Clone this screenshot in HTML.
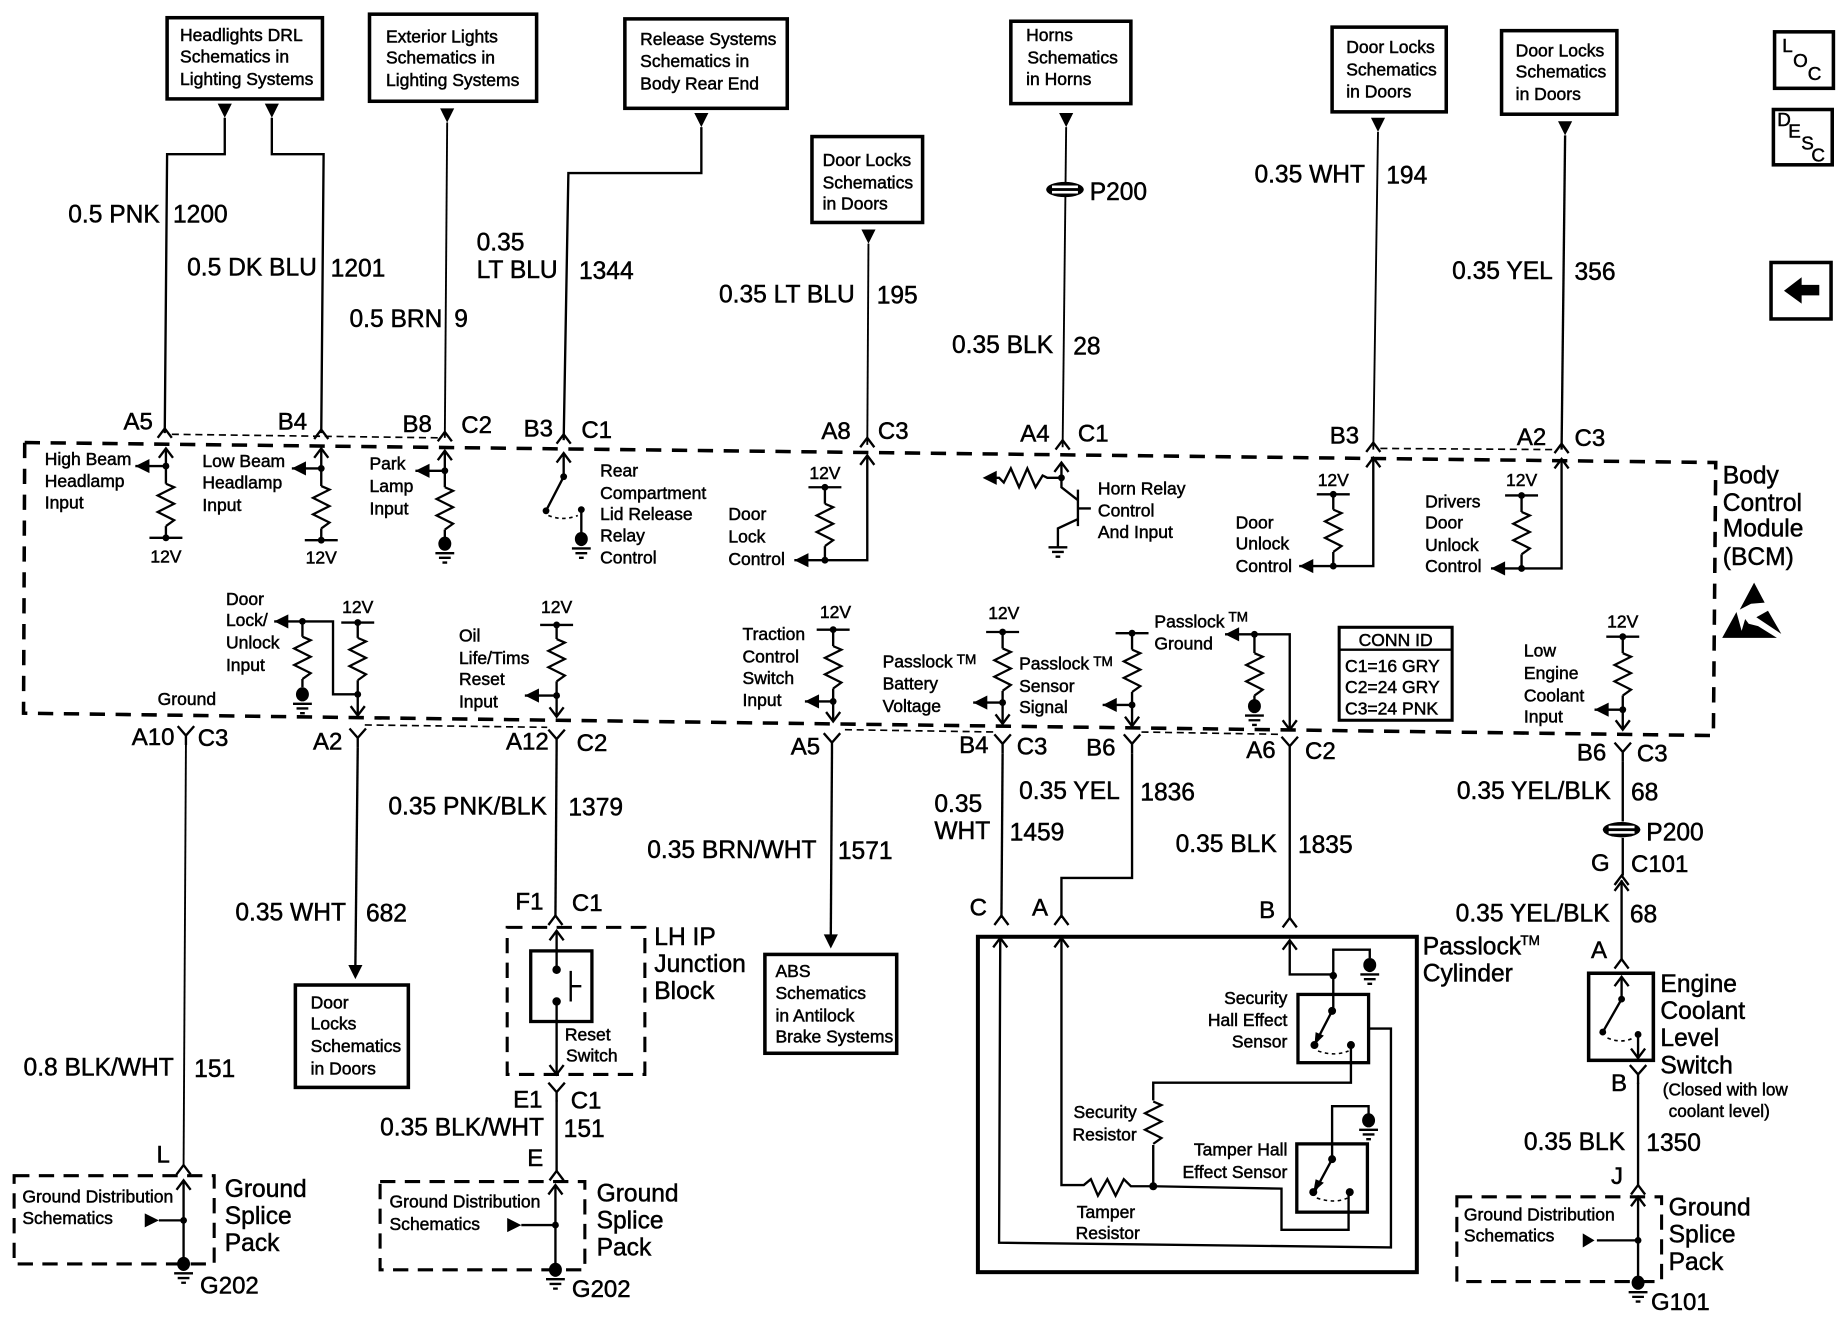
<!DOCTYPE html>
<html><head><meta charset="utf-8"><title>BCM schematic</title>
<style>
html,body{margin:0;padding:0;background:#fff;width:1844px;height:1344px;overflow:hidden}
svg{display:block}
text{font-family:"Liberation Sans",sans-serif;fill:#000;stroke:#000;stroke-width:.42}
.s{font-size:14.9px}
.l{font-size:20.9px}
.m{font-size:20.4px}
.t{font-size:11.5px}
.n{font-size:16px;text-anchor:middle}
.w{fill:none;stroke:#000;stroke-width:2}
.h{fill:none;stroke:#000;stroke-width:1.6}
.b{fill:#fff;stroke:#000;stroke-width:3}
</style></head><body>
<svg xmlns="http://www.w3.org/2000/svg" width="1844" height="1344" viewBox="0 0 1567 1142">
<defs>
<path id="res" d="M0 0L7 3L-7 10L7 17L-7 24L7 31L0 36" fill="none" stroke="#000" stroke-width="1.9"/>
<path id="up" d="M-6 8L0 0L6 8" fill="none" stroke="#000" stroke-width="2"/>
<path id="dn" d="M-6 -8L0 0L6 -8" fill="none" stroke="#000" stroke-width="2"/>
<path id="Y" d="M-7 -8L0 0L7 -8M0 0V8" fill="none" stroke="#000" stroke-width="2"/>
<polygon id="tl" points="0,0 12,-6 12,6"/>
<polygon id="td" points="0,0 -6,-12 6,-12"/>
<circle id="dot" r="2.9"/>
<g id="gnd"><ellipse rx="5.5" ry="6"/><path d="M-8 8H8M-5 12H5M-2 16H2" stroke="#000" stroke-width="2" fill="none"/></g>
<g id="gl"><path d="M-8 0H8M-5 4H5M-2 8H2" stroke="#000" stroke-width="2" fill="none"/></g>
<g id="bar"><path d="M-14 0H14" stroke="#000" stroke-width="2"/><circle r="2.9"/></g>
<g id="p2"><ellipse rx="16" ry="6.5"/><rect x="-11" y="-3.4" width="22" height="2.2" fill="#fff"/><rect x="-11" y="1.2" width="22" height="2.2" fill="#fff"/></g>
</defs>

<!-- top boxes -->
<rect class="b" x="142" y="15" width="132" height="69"/>
<text class="s"><tspan x="153" y="35">Headlights DRL</tspan><tspan x="153" y="53">Schematics in</tspan><tspan x="153" y="72">Lighting Systems</tspan></text>
<rect class="b" x="314" y="12" width="142" height="74"/>
<text class="s"><tspan x="328" y="36">Exterior Lights</tspan><tspan x="328" y="54">Schematics in</tspan><tspan x="328" y="73">Lighting Systems</tspan></text>
<rect class="b" x="531" y="16" width="138" height="76"/>
<text class="s"><tspan x="544" y="38">Release Systems</tspan><tspan x="544" y="57">Schematics in</tspan><tspan x="544" y="76">Body Rear End</tspan></text>
<rect class="b" x="690" y="116" width="94" height="73"/>
<text class="s"><tspan x="699" y="141">Door Locks</tspan><tspan x="699" y="160">Schematics</tspan><tspan x="699" y="178">in Doors</tspan></text>
<rect class="b" x="859" y="18" width="102" height="70"/>
<text class="s"><tspan x="872" y="35">Horns</tspan><tspan x="873" y="54">Schematics</tspan><tspan x="872" y="72">in Horns</tspan></text>
<rect class="b" x="1132" y="23" width="97" height="72"/>
<text class="s"><tspan x="1144" y="45">Door Locks</tspan><tspan x="1144" y="64">Schematics</tspan><tspan x="1144" y="83">in Doors</tspan></text>
<rect class="b" x="1276" y="26" width="98" height="71"/>
<text class="s"><tspan x="1288" y="48">Door Locks</tspan><tspan x="1288" y="66">Schematics</tspan><tspan x="1288" y="85">in Doors</tspan></text>

<!-- nav boxes -->
<rect class="b" x="1508" y="27" width="50" height="48"/>
<text class="n" x="1519" y="44">L</text><text class="n" x="1530" y="57">O</text><text class="n" x="1542" y="68">C</text>
<rect class="b" x="1507" y="93" width="50" height="47"/>
<text class="n" x="1516" y="107">D</text><text class="n" x="1525" y="117">E</text><text class="n" x="1536" y="127">S</text><text class="n" x="1545" y="137">C</text>
<rect class="b" x="1505" y="223" width="51" height="48"/>
<path d="M1516 247L1531 235.500V242H1546V251H1531V258Z"/>

<!-- top wires -->
<use href="#td" x="191" y="100"/><use href="#td" x="231" y="100"/><use href="#td" x="380" y="104"/>
<use href="#td" x="596" y="108"/><use href="#td" x="738" y="207"/><use href="#td" x="906" y="108"/>
<use href="#td" x="1171" y="112"/><use href="#td" x="1330" y="115"/>
<path class="w" d="M191 100V131H142L140 368"/>
<path class="w" d="M231 100V131H275L273 368"/>
<path class="h" d="M380 104L378 372"/>
<path class="w" d="M596 108V147H483L479 374"/>
<path class="h" d="M738 207L737 378"/>
<path class="h" d="M906 108L903 380"/>
<path class="h" d="M1171 112L1167 382"/>
<path class="w" d="M1330 115L1327 382"/>
<use href="#p2" x="905" y="161"/>

<!-- wire labels top -->
<text class="l" x="58" y="189">0.5 PNK</text><text class="l" x="147" y="189">1200</text>
<text class="l" x="159" y="234">0.5 DK BLU</text><text class="l" x="281" y="235">1201</text>
<text class="l" x="297" y="278">0.5 BRN</text><text class="l" x="386" y="278">9</text>
<text class="l" x="405" y="213">0.35</text><text class="l" x="405" y="236">LT BLU</text><text class="l" x="492" y="237">1344</text>
<text class="l" x="611" y="257">0.35 LT BLU</text><text class="l" x="745" y="258">195</text>
<text class="l" x="809" y="300">0.35 BLK</text><text class="l" x="912" y="301">28</text>
<text class="l" x="926" y="170">P200</text>
<text class="l" x="1066" y="155">0.35 WHT</text><text class="l" x="1178" y="156">194</text>
<text class="l" x="1234" y="237">0.35 YEL</text><text class="l" x="1338" y="238">356</text>

<!-- connector labels top -->
<text class="m" x="105" y="365">A5</text><text class="m" x="236" y="365">B4</text><text class="m" x="342" y="367">B8</text><text class="m" x="392" y="368">C2</text>
<text class="m" x="445" y="371">B3</text><text class="m" x="494" y="372">C1</text><text class="m" x="698" y="373">A8</text><text class="m" x="746" y="373">C3</text>
<text class="m" x="867" y="375">A4</text><text class="m" x="916" y="375">C1</text><text class="m" x="1130" y="377">B3</text><text class="m" x="1289" y="378">A2</text><text class="m" x="1338" y="379">C3</text>

<!-- BCM boundary -->
<path d="M21 376L1458 393L1456 625L20 606Z" fill="none" stroke="#000" stroke-width="3" stroke-dasharray="13 9"/>
<path d="M146 369L372 372M1173 381L1321 382M310 616L465 618M718 620L846 622M970 622L1090 624" fill="none" stroke="#000" stroke-width="1.4" stroke-dasharray="6 4"/>

<!-- top connectors -->
<use href="#up" x="140" y="364"/><use href="#up" x="273" y="365"/><use href="#up" x="378" y="367"/><use href="#up" x="479" y="369"/>
<use href="#up" x="737" y="372"/><use href="#up" x="903" y="374"/><use href="#up" x="1167" y="376"/><use href="#up" x="1327" y="377"/>

<!-- High beam -->
<text class="s"><tspan x="38" y="395">High Beam</tspan><tspan x="38" y="414">Headlamp</tspan><tspan x="38" y="432">Input</tspan></text>
<use href="#up" x="141" y="381"/><path class="w" d="M141 381V411M115 396H141"/><use href="#dot" x="141" y="396"/><use href="#tl" x="115" y="396"/>
<use href="#res" x="141" y="411"/><path class="w" d="M141 447V457"/><use href="#bar" x="141" y="457"/>
<text class="s" text-anchor="middle" x="141" y="478">12V</text>
<!-- Low beam -->
<text class="s"><tspan x="172" y="397">Low Beam</tspan><tspan x="172" y="415">Headlamp</tspan><tspan x="172" y="434">Input</tspan></text>
<use href="#up" x="273" y="381"/><path class="w" d="M273 381V413M248 398H273"/><use href="#dot" x="273" y="398"/><use href="#tl" x="248" y="398"/>
<use href="#res" x="273" y="413"/><path class="w" d="M273 449V459"/><use href="#bar" x="273" y="459"/>
<text class="s" text-anchor="middle" x="273" y="479">12V</text>
<!-- Park -->
<text class="s"><tspan x="314" y="399">Park</tspan><tspan x="314" y="418">Lamp</tspan><tspan x="314" y="437">Input</tspan></text>
<use href="#up" x="378" y="383"/><path class="w" d="M378 383V414M353 400H378"/><use href="#dot" x="378" y="400"/><use href="#tl" x="353" y="400"/>
<use href="#res" x="378" y="414"/><path class="w" d="M378 450V460"/><use href="#gnd" x="378" y="462"/>
<!-- Rear compartment -->
<text class="s"><tspan x="510" y="405">Rear</tspan><tspan x="510" y="424">Compartment</tspan><tspan x="510" y="442">Lid Release</tspan><tspan x="510" y="460">Relay</tspan><tspan x="510" y="479">Control</tspan></text>
<use href="#up" x="479" y="385"/><path class="w" d="M479 385V405L464 434"/><use href="#dot" x="479" y="405"/><use href="#dot" x="464" y="434"/><use href="#dot" x="494" y="433"/>
<path d="M466 438Q478 443 491 438" fill="none" stroke="#000" stroke-width="1.4" stroke-dasharray="3 3"/>
<path class="w" d="M494 433V455"/><use href="#gnd" x="494" y="458"/>
<!-- Door lock control -->
<text class="s"><tspan x="619" y="442">Door</tspan><tspan x="619" y="461">Lock</tspan><tspan x="619" y="480">Control</tspan></text>
<use href="#up" x="737" y="387"/><path class="w" d="M737 387V476H675"/><use href="#tl" x="675" y="476"/><use href="#dot" x="701" y="476"/>
<use href="#bar" x="701" y="414"/><text class="s" text-anchor="middle" x="701" y="407">12V</text>
<path class="w" d="M701 414V428M701 464V476"/><use href="#res" x="701" y="428"/>
<!-- Horn relay -->
<text class="s"><tspan x="933" y="420">Horn Relay</tspan><tspan x="933" y="439">Control</tspan><tspan x="933" y="457">And Input</tspan></text>
<use href="#up" x="902" y="393"/><path class="w" d="M902 393V414L916 425M916 416V447M916 432H927M916 441L899 449V465"/>
<use href="#dot" x="902" y="406"/>
<path class="w" d="M902 406H890L886 404 880 414 873 398 866 414 859 398 853 410 849 406H846"/>
<use href="#tl" x="835" y="406"/>
<use href="#gl" x="899" y="465"/>
<!-- Door unlock -->
<text class="s"><tspan x="1050" y="449">Door</tspan><tspan x="1050" y="467">Unlock</tspan><tspan x="1050" y="486">Control</tspan></text>
<use href="#up" x="1167" y="389"/><path class="w" d="M1167 389V481H1104"/><use href="#tl" x="1104" y="481"/><use href="#dot" x="1133" y="481"/>
<use href="#bar" x="1133" y="420"/><text class="s" text-anchor="middle" x="1133" y="413">12V</text>
<path class="w" d="M1133 420V433M1133 469V481"/><use href="#res" x="1133" y="433"/>
<!-- Drivers door -->
<text class="s"><tspan x="1211" y="431">Drivers</tspan><tspan x="1211" y="449">Door</tspan><tspan x="1211" y="468">Unlock</tspan><tspan x="1211" y="486">Control</tspan></text>
<use href="#up" x="1327" y="390"/><path class="w" d="M1327 390V483H1267"/><use href="#tl" x="1267" y="483"/><use href="#dot" x="1293" y="483"/>
<use href="#bar" x="1293" y="421"/><text class="s" text-anchor="middle" x="1293" y="413">12V</text>
<path class="w" d="M1293 421V435M1293 471V483"/><use href="#res" x="1293" y="435"/>

<!-- Body control module -->
<text class="l" x="1464" y="411">Body</text><text class="l" x="1464" y="434">Control</text><text class="l" x="1464" y="456">Module</text><text class="l" x="1464" y="480">(BCM)</text>
<polygon points="1490.600,495 1499.600,512 1488,513 1478.400,518"/>
<polygon points="1463.500,542 1475.600,520 1480,536 1483,526 1486,530 1494,532 1510,542"/>
<polygon points="1492.500,524.500 1502.400,519 1513.700,538.600"/>

<!-- Door lock/unlock input -->
<text class="s"><tspan x="192" y="514">Door</tspan><tspan x="192" y="532">Lock/</tspan><tspan x="192" y="551">Unlock</tspan><tspan x="192" y="570">Input</tspan></text>
<text class="s" x="134" y="599">Ground</text>
<use href="#tl" x="233" y="528"/><path class="w" d="M233 528H283V590H304"/><use href="#dot" x="257" y="528"/>
<path class="w" d="M257 528V541M257 577V584"/><use href="#res" x="257" y="541"/><use href="#gnd" x="257" y="590"/>
<use href="#bar" x="304" y="529"/><text class="s" text-anchor="middle" x="304" y="521">12V</text>
<path class="w" d="M304 529V542M304 578V608"/><use href="#res" x="304" y="542"/><use href="#dot" x="304" y="590"/><use href="#dn" x="304" y="608"/>
<!-- Oil life -->
<text class="s"><tspan x="390" y="545">Oil</tspan><tspan x="390" y="564">Life/Tims</tspan><tspan x="390" y="582">Reset</tspan><tspan x="390" y="601">Input</tspan></text>
<use href="#bar" x="473" y="531"/><text class="s" text-anchor="middle" x="473" y="521">12V</text>
<path class="w" d="M473 531V543M473 579V609M446 591H473"/><use href="#res" x="473" y="543"/><use href="#dot" x="473" y="591"/><use href="#tl" x="446" y="591"/><use href="#dn" x="473" y="609"/>
<!-- Traction -->
<text class="s"><tspan x="631" y="544">Traction</tspan><tspan x="631" y="563">Control</tspan><tspan x="631" y="581">Switch</tspan><tspan x="631" y="600">Input</tspan></text>
<use href="#bar" x="708" y="535"/><text class="s" text-anchor="middle" x="710" y="525">12V</text>
<path class="w" d="M708 535V549M708 585V613M684 596H708"/><use href="#res" x="708" y="549"/><use href="#dot" x="708" y="596"/><use href="#tl" x="684" y="596"/><use href="#dn" x="708" y="613"/>
<!-- Passlock battery -->
<text class="s"><tspan x="750" y="567">Passlock</tspan><tspan x="750" y="586">Battery</tspan><tspan x="750" y="605">Voltage</tspan></text>
<text class="t" x="813" y="564">TM</text>
<use href="#bar" x="852" y="537"/><text class="s" text-anchor="middle" x="853" y="526">12V</text>
<path class="w" d="M852 537V551M852 587V615M827 597H852"/><use href="#res" x="852" y="551"/><use href="#dot" x="852" y="597"/><use href="#tl" x="827" y="597"/><use href="#dn" x="852" y="615"/>
<!-- Passlock sensor -->
<text class="s"><tspan x="866" y="569">Passlock</tspan><tspan x="866" y="588">Sensor</tspan><tspan x="866" y="606">Signal</tspan></text>
<text class="t" x="929" y="566">TM</text>
<use href="#bar" x="962" y="538"/>
<path class="w" d="M962 538V552M962 588V617M937 599H962"/><use href="#res" x="962" y="552"/><use href="#dot" x="962" y="599"/><use href="#tl" x="937" y="599"/><use href="#dn" x="962" y="617"/>
<!-- Passlock ground -->
<text class="s"><tspan x="981" y="533">Passlock</tspan><tspan x="981" y="552">Ground</tspan></text>
<text class="t" x="1044" y="528">TM</text>
<use href="#tl" x="1041" y="539"/><path class="w" d="M1041 539H1096V620"/><use href="#dot" x="1066" y="539"/><use href="#dn" x="1096" y="620"/>
<path class="w" d="M1066 539V555M1066 591V596"/><use href="#res" x="1066" y="555"/><use href="#gnd" x="1066" y="600"/>
<!-- CONN ID -->
<rect x="1138" y="533" width="96" height="79" fill="#fff" stroke="#000" stroke-width="2.6"/>
<path d="M1138 552H1234" stroke="#000" stroke-width="2"/>
<text class="s" text-anchor="middle" x="1186" y="549">CONN ID</text>
<text class="s"><tspan x="1143" y="571">C1=16 GRY</tspan><tspan x="1143" y="589">C2=24 GRY</tspan><tspan x="1143" y="607">C3=24 PNK</tspan></text>
<!-- Low engine coolant -->
<text class="s"><tspan x="1295" y="558">Low</tspan><tspan x="1295" y="577">Engine</tspan><tspan x="1295" y="596">Coolant</tspan><tspan x="1295" y="614">Input</tspan></text>
<use href="#bar" x="1379" y="541"/><text class="s" text-anchor="middle" x="1379" y="533">12V</text>
<path class="w" d="M1379 541V555M1379 591V620M1355 603H1379"/><use href="#res" x="1379" y="555"/><use href="#dot" x="1379" y="603"/><use href="#tl" x="1355" y="603"/><use href="#dn" x="1379" y="620"/>

<!-- bottom connectors and wires -->
<use href="#Y" x="158" y="625"/><use href="#Y" x="304" y="627"/><use href="#Y" x="473" y="628"/><use href="#Y" x="707" y="631"/>
<use href="#Y" x="852" y="632"/><use href="#Y" x="962" y="632"/><use href="#Y" x="1096" y="634"/><use href="#Y" x="1379" y="639"/>
<text class="m" x="112" y="633">A10</text><text class="m" x="168" y="634">C3</text>
<text class="m" x="266" y="637">A2</text>
<text class="m" x="430" y="637">A12</text><text class="m" x="490" y="638">C2</text>
<text class="m" x="672" y="641">A5</text>
<text class="m" x="815" y="640">B4</text><text class="m" x="864" y="641">C3</text>
<text class="m" x="923" y="642">B6</text>
<text class="m" x="1059" y="644">A6</text><text class="m" x="1109" y="645">C2</text>
<text class="m" x="1340" y="646">B6</text><text class="m" x="1391" y="647">C3</text>

<path class="h" d="M158 633L156 991"/>
<path class="w" d="M304 635L302 820"/><use href="#td" x="302" y="832"/>
<path class="w" d="M473 636L472 778"/>
<path class="w" d="M707 639L706 795"/><use href="#td" x="706" y="806"/>
<path class="w" d="M852 640L851 780"/>
<path class="w" d="M962 640V746H902V780"/>
<path class="w" d="M1096 642V780"/>
<path class="w" d="M1379 647V698M1379 712V744M1378 748V815"/>

<text class="l" x="330" y="692">0.35 PNK/BLK</text><text class="l" x="483" y="693">1379</text>
<text class="l" x="550" y="729">0.35 BRN/WHT</text><text class="l" x="712" y="730">1571</text>
<text class="l" x="794" y="690">0.35</text><text class="l" x="794" y="713">WHT</text><text class="l" x="858" y="714">1459</text>
<text class="l" x="866" y="679">0.35 YEL</text><text class="l" x="969" y="680">1836</text>
<text class="l" x="999" y="724">0.35 BLK</text><text class="l" x="1103" y="725">1835</text>
<text class="l" x="1238" y="679">0.35 YEL/BLK</text><text class="l" x="1386" y="680">68</text>
<text class="l" x="1399" y="714">P200</text>
<text class="l" x="1237" y="783">0.35 YEL/BLK</text><text class="l" x="1385" y="784">68</text>
<text class="l" x="200" y="782">0.35 WHT</text><text class="l" x="311" y="783">682</text>
<text class="l" x="20" y="914">0.8 BLK/WHT</text><text class="l" x="165" y="915">151</text>
<text class="l" x="323" y="965">0.35 BLK/WHT</text><text class="l" x="479" y="966">151</text>
<text class="l" x="1295" y="977">0.35 BLK</text><text class="l" x="1399" y="978">1350</text>
<use href="#p2" x="1378" y="705"/>
<text class="m" x="1352" y="740">G</text><text class="m" x="1386" y="741">C101</text>
<use href="#up" x="1378" y="744"/><use href="#up" x="1378" y="749"/>
<text class="m" x="1352" y="814">A</text>
<use href="#up" x="1378" y="815"/>

<!-- Door locks box low -->
<rect class="b" x="251" y="837" width="96" height="87"/>
<text class="s"><tspan x="264" y="857">Door</tspan><tspan x="264" y="875">Locks</tspan><tspan x="264" y="894">Schematics</tspan><tspan x="264" y="913">in Doors</tspan></text>
<!-- ABS -->
<rect class="b" x="650" y="811" width="112" height="84"/>
<text class="s"><tspan x="659" y="830">ABS</tspan><tspan x="659" y="849">Schematics</tspan><tspan x="659" y="868">in Antilock</tspan><tspan x="659" y="886">Brake Systems</tspan></text>

<!-- LH IP Junction -->
<text class="m" x="438" y="773">F1</text><text class="m" x="486" y="774">C1</text>
<use href="#up" x="472" y="778"/>
<rect x="431" y="788" width="117" height="125" fill="none" stroke="#000" stroke-width="2.6" stroke-dasharray="13 8"/>
<text class="l" x="556" y="803">LH IP</text><text class="l" x="556" y="826">Junction</text><text class="l" x="556" y="849">Block</text>
<use href="#up" x="473" y="791"/>
<rect x="451" y="808" width="52" height="60" fill="none" stroke="#000" stroke-width="2.8"/>
<path class="w" d="M473 791V824M473 851V913"/><use href="#dn" x="473" y="913"/>
<circle cx="473" cy="824" r="3.6"/><circle cx="473" cy="851" r="3.6"/>
<path class="w" d="M485 825V851M485 838H494"/>
<text class="s"><tspan x="480" y="884">Reset</tspan><tspan x="481" y="902">Switch</tspan></text>
<use href="#Y" x="473" y="928"/>
<text class="m" x="436" y="941">E1</text><text class="m" x="485" y="942">C1</text>
<path class="w" d="M473 935V995"/>
<text class="m" x="448" y="991">E</text>
<use href="#up" x="473" y="995"/>

<!-- Ground splice 1 -->
<text class="m" x="133" y="988">L</text>
<use href="#up" x="156" y="990"/>
<rect x="12" y="999" width="170" height="75" fill="none" stroke="#000" stroke-width="2.6" stroke-dasharray="13 8"/>
<use href="#up" x="156" y="1003"/><path class="w" d="M156 1003V1070M135 1037H156"/>
<use href="#dot" x="156" y="1037"/><polygon points="135,1037 123,1031 123,1043"/>
<use href="#gnd" x="156" y="1074"/>
<text class="s"><tspan x="19" y="1022">Ground Distribution</tspan><tspan x="19" y="1040">Schematics</tspan></text>
<text class="m" x="170" y="1099">G202</text>
<text class="l" x="191" y="1017">Ground</text><text class="l" x="191" y="1040">Splice</text><text class="l" x="191" y="1063">Pack</text>

<!-- Ground splice 2 -->
<rect x="323" y="1004" width="174" height="75" fill="none" stroke="#000" stroke-width="2.6" stroke-dasharray="13 8"/>
<use href="#up" x="472" y="1007"/><path class="w" d="M472 1007V1075M443 1041H472"/>
<use href="#dot" x="472" y="1041"/><polygon points="443,1041 431,1035 431,1047"/>
<use href="#gnd" x="472" y="1079"/>
<text class="s"><tspan x="331" y="1026">Ground Distribution</tspan><tspan x="331" y="1045">Schematics</tspan></text>
<text class="m" x="486" y="1102">G202</text>
<text class="l" x="507" y="1021">Ground</text><text class="l" x="507" y="1044">Splice</text><text class="l" x="507" y="1067">Pack</text>

<!-- Engine coolant switch -->
<rect x="1350" y="827" width="55" height="74" fill="none" stroke="#000" stroke-width="3"/>
<use href="#up" x="1378" y="830"/>
<path class="w" d="M1378 830V849L1362 877"/>
<use href="#dot" x="1378" y="849"/><use href="#dot" x="1362" y="877"/><use href="#dot" x="1392" y="879"/>
<path d="M1366 882Q1378 887 1388 882" fill="none" stroke="#000" stroke-width="1.4" stroke-dasharray="3 3"/>
<path class="w" d="M1392 879V899"/><use href="#dn" x="1392" y="899"/>
<use href="#Y" x="1392" y="913"/>
<text class="m" x="1369" y="927">B</text>
<text class="l" x="1411" y="843">Engine</text><text class="l" x="1411" y="866">Coolant</text><text class="l" x="1411" y="889">Level</text><text class="l" x="1411" y="912">Switch</text>
<text style="font-size:14.6px" x="1413" y="931">(Closed with low</text><text style="font-size:14.6px" x="1418" y="949">coolant level)</text>
<path class="w" d="M1392 920V1007"/>
<text class="m" x="1369" y="1006">J</text>
<use href="#up" x="1392" y="1007"/>

<!-- Ground splice 3 -->
<rect x="1238" y="1017" width="174" height="72" fill="none" stroke="#000" stroke-width="2.6" stroke-dasharray="13 8"/>
<use href="#up" x="1392" y="1017"/><path class="w" d="M1392 1017V1086M1357 1054H1392"/>
<use href="#dot" x="1392" y="1054"/><polygon points="1355,1054 1345,1048 1345,1060"/>
<use href="#gnd" x="1392" y="1090"/>
<text class="s"><tspan x="1244" y="1037">Ground Distribution</tspan><tspan x="1244" y="1055">Schematics</tspan></text>
<text class="m" x="1403" y="1113">G101</text>
<text class="l" x="1418" y="1033">Ground</text><text class="l" x="1418" y="1056">Splice</text><text class="l" x="1418" y="1079">Pack</text>

<!-- Passlock cylinder -->
<text class="m" x="824" y="778">C</text><text class="m" x="877" y="778">A</text><text class="m" x="1070" y="780">B</text>
<use href="#up" x="851" y="778"/><use href="#up" x="902" y="778"/><use href="#up" x="1096" y="780"/>
<rect x="831" y="796" width="373" height="285" fill="none" stroke="#000" stroke-width="3.400"/>
<use href="#up" x="850" y="797"/><use href="#up" x="902" y="797"/><use href="#up" x="1096" y="799"/>
<text class="l" x="1209" y="811">Passlock</text><text class="t" x="1292" y="803">TM</text><text class="l" x="1209" y="834">Cylinder</text>
<path class="w" d="M850 797L849 1056L1182 1060V874H1163"/>
<path class="w" d="M902 797V1007H921L927 1002 933 1016 941 1002 948 1016 955 1002 961 1008H980L1089 1010V1045H1146V1013"/>
<path class="w" d="M980 1007V973M980 935V920H1148V888"/>
<use href="#res" x="980" y="936"/>
<circle cx="980" cy="1008" r="3.4"/>
<path class="w" d="M1096 799V828H1133M1133 829V807H1164V814M1133 829V859"/>
<circle cx="1133" cy="829" r="3.2"/>
<use href="#gnd" x="1164" y="820"/>
<rect x="1103" y="845" width="60" height="58" fill="none" stroke="#000" stroke-width="2.8"/>
<path class="w" d="M1132 859L1118 886"/><polygon points="1117,888 1118,877 1125,880"/>
<circle cx="1132" cy="859" r="3.4"/><circle cx="1117" cy="888" r="3.4"/><circle cx="1148" cy="888" r="3.4"/>
<path d="M1120 893Q1134 898 1146 893" fill="none" stroke="#000" stroke-width="1.3" stroke-dasharray="3 3"/>
<text class="s" text-anchor="end"><tspan x="1094" y="853">Security</tspan><tspan x="1094" y="872">Hall Effect</tspan><tspan x="1094" y="890">Sensor</tspan></text>
<text class="s" text-anchor="end"><tspan x="966" y="950">Security</tspan><tspan x="966" y="969">Resistor</tspan></text>
<text class="s" text-anchor="end"><tspan x="1094" y="982">Tamper Hall</tspan><tspan x="1094" y="1001">Effect Sensor</tspan></text>
<text class="s" x="915" y="1035">Tamper</text><text class="s" x="914" y="1053">Resistor</text>
<path class="w" d="M1132 985V940H1163V947"/>
<use href="#gnd" x="1163" y="952"/>
<rect x="1102" y="972" width="60" height="58" fill="none" stroke="#000" stroke-width="2.8"/>
<path class="w" d="M1132 985L1118 1011"/><polygon points="1116,1013 1118,1002 1125,1005"/>
<circle cx="1132" cy="985" r="3.4"/><circle cx="1116" cy="1013" r="3.4"/><circle cx="1147" cy="1013" r="3.4"/>
<path d="M1119 1018Q1134 1023 1145 1018" fill="none" stroke="#000" stroke-width="1.3" stroke-dasharray="3 3"/>
</svg>
</body></html>
